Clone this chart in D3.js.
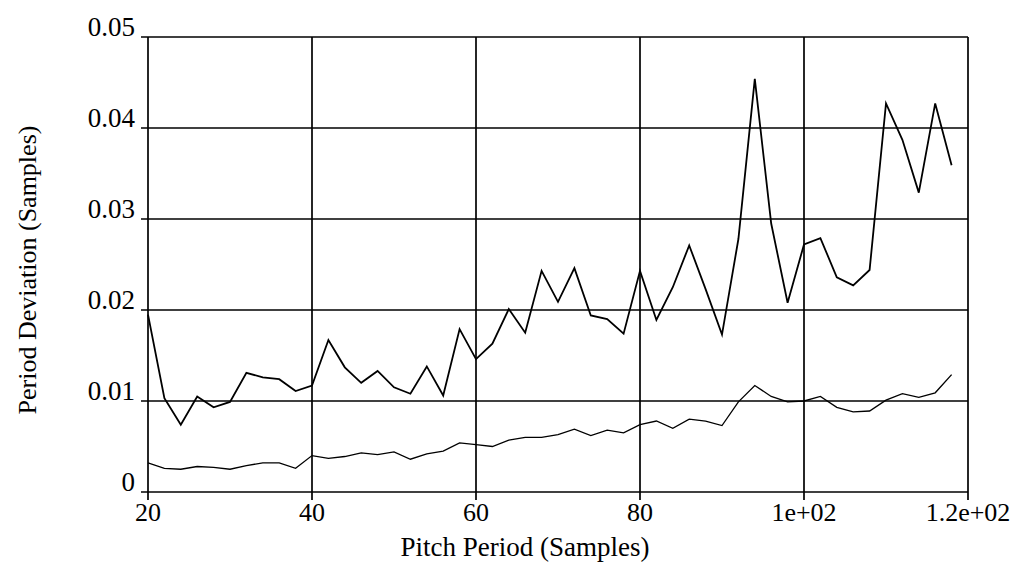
<!DOCTYPE html>
<html>
<head>
<meta charset="utf-8">
<script src="https://cdn.jsdelivr.net/npm/d3@7"></script>
<style>
  html, body { margin: 0; padding: 0; background: #fff; }
  svg { display: block; }
  text { font-family: "Liberation Serif", "Times New Roman", serif; fill: #000; }
</style>
</head>
<body>
<svg id="chart" width="1014" height="566"></svg>
<script>
// Pitch period samples (x)
const pitchPeriod = [20,22,24,26,28,30,32,34,36,38,40,42,44,46,48,50,52,54,56,58,
  60,62,64,66,68,70,72,74,76,78,80,82,84,86,88,90,92,94,96,98,
  100,102,104,106,108,110,112,114,116,118];

// Upper curve (period deviation, samples)
const upperDeviation = [0.0195,0.0103,0.0074,0.0105,0.0093,0.0099,0.0131,0.0126,0.0124,0.0111,
  0.0117,0.0167,0.0137,0.0120,0.0133,0.0115,0.0108,0.0138,0.0106,0.0179,
  0.0146,0.0163,0.0201,0.0175,0.0243,0.0209,0.0246,0.0194,0.0190,0.0174,
  0.0243,0.0189,0.0225,0.0271,0.0223,0.0173,0.0278,0.0454,0.0295,0.0208,
  0.0272,0.0279,0.0236,0.0227,0.0244,0.0427,0.0387,0.0329,0.0427,0.0359];

// Lower curve (period deviation, samples)
const lowerDeviation = [0.0032,0.0026,0.0025,0.0028,0.0027,0.0025,0.0029,0.0032,0.0032,0.0026,
  0.0040,0.0037,0.0039,0.0043,0.0041,0.0044,0.0036,0.0042,0.0045,0.0054,
  0.0052,0.0050,0.0057,0.0060,0.0060,0.0063,0.0069,0.0062,0.0068,0.0065,
  0.0074,0.0078,0.0070,0.0080,0.0078,0.0073,0.0099,0.0117,0.0105,0.0099,
  0.0100,0.0105,0.0093,0.0088,0.0089,0.0101,0.0108,0.0104,0.0109,0.0129];

const xTicks = [20,40,60,80,100,120];
const xTickLabels = ["20","40","60","80","1e+02","1.2e+02"];
const yTicks = [0,0.01,0.02,0.03,0.04,0.05];
const yTickLabels = ["0","0.01","0.02","0.03","0.04","0.05"];

const xTitle = "Pitch Period (Samples)";
const yTitle = "Period Deviation (Samples)";

const svg = d3.select("#chart");
const x = d3.scaleLinear().domain([20,120]).range([148,968]);
const y = d3.scaleLinear().domain([0,0.05]).range([492,37]);

const g = svg.append("g");

// horizontal grid lines (extend left as ticks)
g.selectAll("line.h").data(yTicks).join("line")
  .attr("class","h")
  .attr("x1", x(20) - 7).attr("x2", x(120))
  .attr("y1", d => y(d)).attr("y2", d => y(d))
  .attr("stroke","#000").attr("stroke-width",1.3);

// vertical grid lines (extend below as ticks)
g.selectAll("line.v").data(xTicks).join("line")
  .attr("class","v")
  .attr("x1", d => x(d)).attr("x2", d => x(d))
  .attr("y1", y(0.05)).attr("y2", y(0) + 8)
  .attr("stroke","#000").attr("stroke-width",1.7);

// y tick labels
g.selectAll("text.yl").data(yTicks).join("text")
  .attr("class","yl")
  .attr("x", x(20) - 13)
  .attr("y", d => y(d) - 1)
  .attr("text-anchor","end")
  .attr("font-size", 27)
  .text((d,i) => yTickLabels[i]);

// x tick labels
g.selectAll("text.xl").data(xTicks).join("text")
  .attr("class","xl")
  .attr("x", d => x(d))
  .attr("y", y(0) + 29)
  .attr("text-anchor","middle")
  .attr("font-size", 26)
  .text((d,i) => xTickLabels[i]);

// axis titles
g.append("text")
  .attr("x", 525).attr("y", 556)
  .attr("text-anchor","middle")
  .attr("font-size", 27)
  .text(xTitle);

g.append("text")
  .attr("transform","translate(36,270) rotate(-90)")
  .attr("text-anchor","middle")
  .attr("font-size", 26)
  .text(yTitle);

// data lines
const line = d3.line().x(d => x(d[0])).y(d => y(d[1]));
g.append("path")
  .datum(pitchPeriod.map((p,i) => [p, upperDeviation[i]]))
  .attr("d", line)
  .attr("fill","none").attr("stroke","#000").attr("stroke-width",1.8)
  .attr("stroke-linejoin","miter");
g.append("path")
  .datum(pitchPeriod.map((p,i) => [p, lowerDeviation[i]]))
  .attr("d", line)
  .attr("fill","none").attr("stroke","#000").attr("stroke-width",1.3);
</script>
</body>
</html>
